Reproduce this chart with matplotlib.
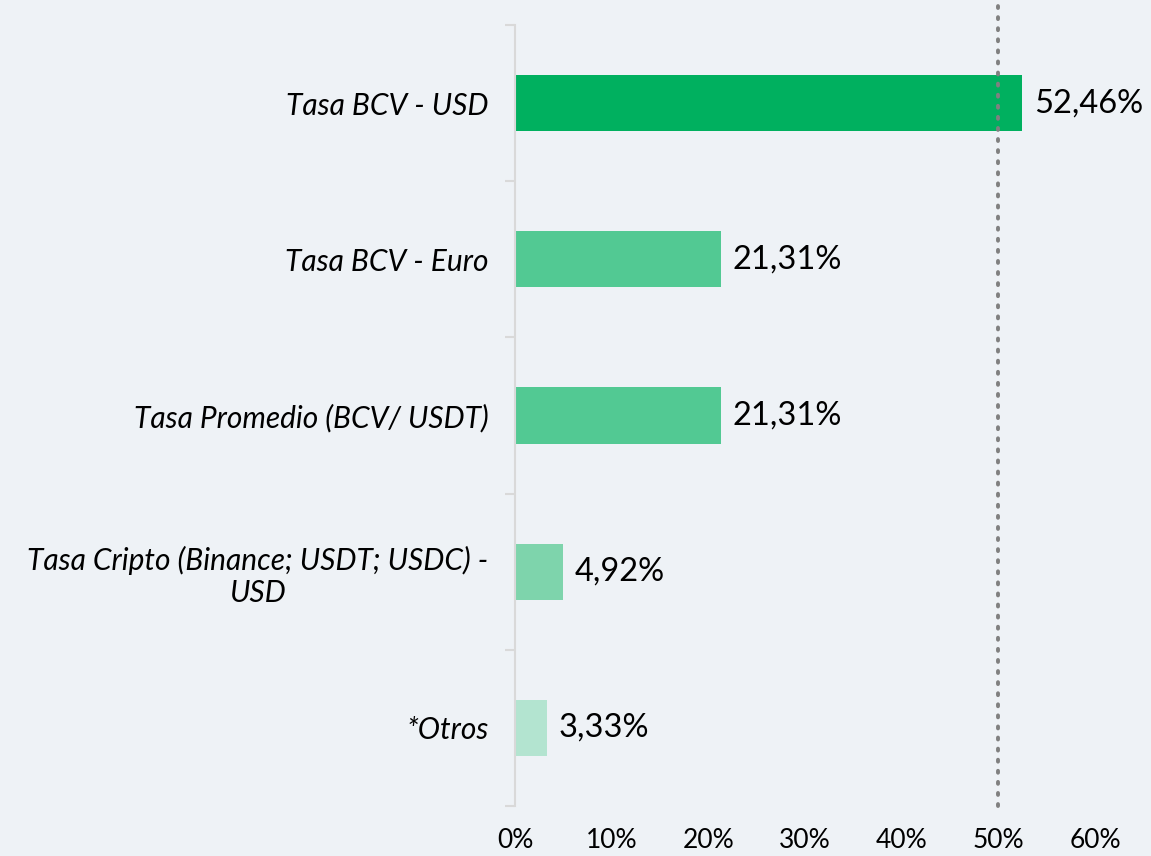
import matplotlib.pyplot as plt
import numpy as np

categories = ["Tasa BCV - USD", "Tasa BCV - Euro", "Tasa Promedio (BCV/ USDT)",
              "Tasa Cripto (Binance; USDT; USDC) -\nUSD", "*Otros"]
values = [52.46, 21.31, 21.31, 4.92, 3.33]
value_labels = ["52,46%", "21,31%", "21,31%", "4,92%", "3,33%"]
bar_colors = ["#00b05f", "#52c993", "#52c993", "#7ed4ac", "#b3e4d0"]
x_ticks = [0, 10, 20, 30, 40, 50, 60]
x_tick_labels = ["0%", "10%", "20%", "30%", "40%", "50%", "60%"]
ref_line = 50

bg = "#eef2f6"
plt.rcParams['font.family'] = ['Lato', 'DejaVu Sans']

fig = plt.figure(figsize=(11.51, 8.56), dpi=100, facecolor=bg)
ax = fig.add_axes([515/1151, 1 - 806/856, (1095 - 515)/1151, (806 - 25)/856])
ax.set_facecolor(bg)

y = np.arange(len(categories))
ax.barh(y, values, height=0.36, color=bar_colors, zorder=2)

for yi, v, lab in zip(y, values, value_labels):
    ax.text(v + 1.2, yi, lab, va="center", ha="left", fontsize=23.5, color="black", zorder=3)

ax.axvline(ref_line, ymin=0, ymax=1.026, color="#808080", linewidth=2.8,
           linestyle=(0, (0.5, 2.35)), dash_capstyle="round", clip_on=False, zorder=4)

ax.set_xlim(0, 60)
ax.set_ylim(len(categories) - 0.5, -0.5)
ax.set_xticks(x_ticks)
ax.set_xticklabels(x_tick_labels, fontsize=19)
ax.tick_params(axis="x", length=0, pad=16)

ax.set_yticks(y)
ax.set_yticklabels(categories, fontsize=21.5, style="italic", multialignment="center")
ax.tick_params(axis="y", which="major", length=0, pad=19)
ax.set_yticks(np.arange(-0.5, len(categories), 1), minor=True)
ax.tick_params(axis="y", which="minor", length=7, color="#d9d9d9", width=1.5)

for s in ["top", "right", "bottom"]:
    ax.spines[s].set_visible(False)
ax.spines["left"].set_color("#d9d9d9")
ax.spines["left"].set_linewidth(1.5)

fig.savefig("out.png", dpi=100, facecolor=bg)
